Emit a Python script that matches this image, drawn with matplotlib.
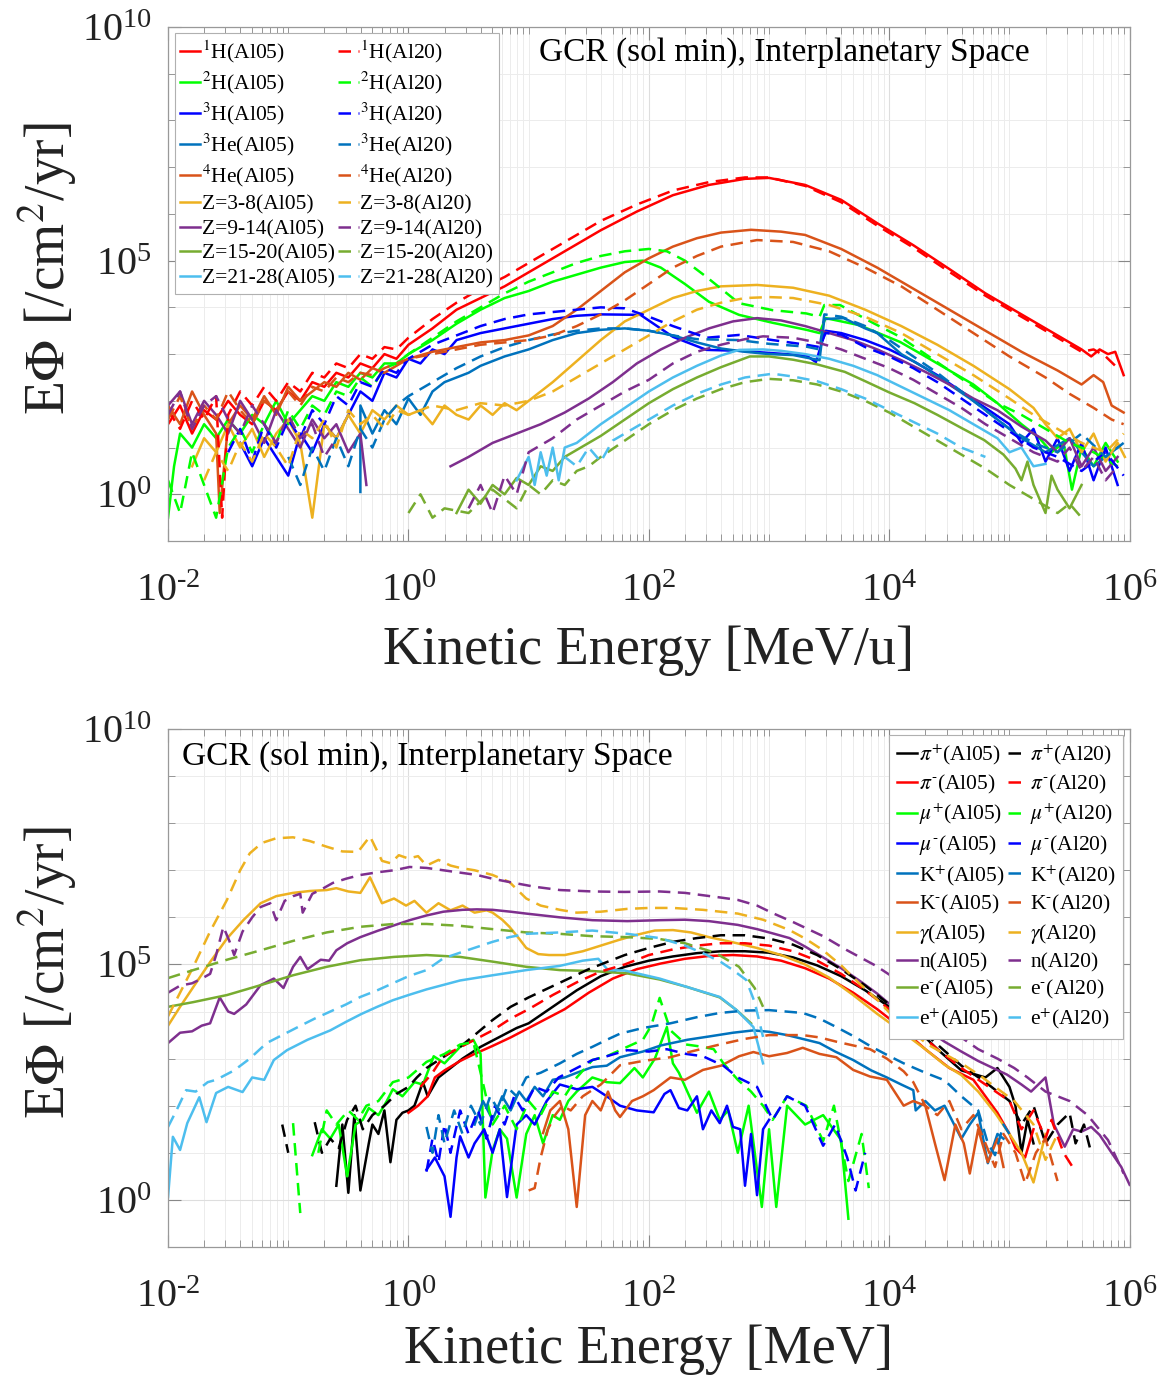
import numpy as np
import matplotlib
matplotlib.use("Agg")
from matplotlib import pyplot as plt
from matplotlib.ticker import FixedLocator, LogLocator, FuncFormatter, NullFormatter

plt.rcParams["font.family"] = ["Liberation Serif", "DejaVu Serif"]
plt.rcParams["mathtext.fontset"] = "stix"

nan = np.nan
HY = "\u2010"  # short hyphen, as in the reference superscripts

# every curve is a list of (log10 E, log10 E*Phi) pairs, nan breaks the line
# ---- top panel: GCR ions ----
H1_AL05 = [(-2.0, 1.5), (-1.9, 1.9), (-1.8, 1.3), (-1.7, 1.8), (-1.6, 1.6), (-1.5, 2.0), (-1.4, 1.7),
           (-1.3, 1.5), (-1.2, 2.0), (-1.1, 1.8), (-1.0, 2.2), (-0.9, 2.0), (-0.8, 2.4), (-0.7, 2.3),
           (-0.6, 2.6), (-0.5, 2.5), (-0.4, 2.8), (-0.3, 2.7), (-0.2, 3.0), (-0.1, 2.9), (0.0, 3.2),
           (0.2, 3.55), (0.4, 3.95), (0.6, 4.2), (0.8, 4.45), (1.0, 4.75), (1.3, 5.2), (1.6, 5.65),
           (1.9, 6.05), (2.2, 6.4), (2.5, 6.62), (2.8, 6.75), (3.0, 6.77), (3.3, 6.62), (3.6, 6.3),
           (3.9, 5.8), (4.2, 5.33), (4.5, 4.82), (4.8, 4.3), (5.1, 3.85), (5.4, 3.4), (5.6, 3.1),
           (5.68, 2.95), (5.75, 3.1), (5.82, 3.0), (5.88, 3.05), (5.95, 2.55)]
H1_AL20 = [(-2.0, 1.8), (-1.9, 1.4), (-1.8, 2.0), (-1.7, 1.6), (-1.6, 2.1), (-1.55, -0.5), (-1.5, 1.7),
           (-1.4, 2.2), (-1.3, 1.9), (-1.2, 2.3), (-1.1, 2.0), (-1.0, 2.4), (-0.9, 2.2), (-0.8, 2.6),
           (-0.7, 2.5), (-0.6, 2.8), (-0.5, 2.7), (-0.4, 3.0), (-0.3, 2.9), (-0.2, 3.15), (-0.1, 3.1),
           (0.0, 3.35), (0.2, 3.75), (0.4, 4.1), (0.6, 4.4), (0.8, 4.65), (1.0, 4.95), (1.3, 5.4),
           (1.6, 5.85), (1.9, 6.2), (2.2, 6.5), (2.5, 6.68), (2.8, 6.78), (3.0, 6.78), (3.3, 6.6),
           (3.6, 6.25), (3.9, 5.75), (4.2, 5.28), (4.5, 4.76), (4.8, 4.25), (5.1, 3.8), (5.4, 3.35),
           (5.6, 3.05), (5.7, 3.1), (5.8, 2.95), (5.9, 2.7)]
H2_AL05 = [(-2.0, -0.5), (-1.95, 0.6), (-1.9, 1.3), (-1.8, 1.0), (-1.7, 1.5), (-1.6, 1.2), (-1.5, 1.6),
           (-1.4, 1.3), (-1.3, 1.7), (-1.2, 1.5), (-1.1, 2.0), (-1.0, 1.5), (-0.9, 1.8), (-0.8, 2.1),
           (-0.7, 2.0), (-0.6, 2.4), (-0.5, 2.3), (-0.4, 2.6), (-0.3, 2.5), (-0.2, 2.8), (-0.1, 2.8),
           (0.0, 3.0), (0.2, 3.3), (0.4, 3.65), (0.6, 3.95), (0.8, 4.2), (1.0, 4.35), (1.2, 4.55),
           (1.4, 4.7), (1.6, 4.85), (1.8, 4.97), (1.95, 5.0), (2.1, 4.85), (2.3, 4.5), (2.5, 4.12),
           (2.75, 3.84), (3.03, 3.67), (3.31, 3.52), (3.42, 3.45), (3.47, 3.77), (3.75, 3.62),
           (4.09, 3.26), (4.3, 2.95), (4.5, 2.65), (4.7, 2.35), (4.9, 1.95), (5.1, 1.5), (5.25, 1.2),
           (5.35, 0.9), (5.45, 1.1), (5.52, 0.1), (5.6, 1.0), (5.7, 0.6), (5.8, 1.1), (5.9, 0.7)]
H2_AL20 = [(-2.0, 0.3), (-1.9, -0.4), (-1.8, 0.9), (-1.7, 0.2), (-1.6, -0.5), (-1.5, 1.0), (-1.4, 1.4),
           (-1.3, 0.9), (-1.2, 1.5), (-1.1, 1.1), (-1.0, 1.8), (-0.9, 1.4), (-0.8, 1.9), (-0.7, 1.7),
           (-0.6, 2.2), (-0.5, 2.1), (-0.4, 2.5), (-0.3, 2.3), (-0.2, 2.7), (-0.1, 2.8), (0.0, 3.0),
           (0.2, 3.35), (0.4, 3.7), (0.6, 4.0), (0.8, 4.3), (1.0, 4.55), (1.2, 4.75), (1.4, 4.95),
           (1.6, 5.1), (1.8, 5.2), (2.0, 5.25), (2.15, 5.2), (2.3, 5.0), (2.48, 4.65), (2.75, 4.09),
           (3.03, 3.94), (3.31, 3.87), (3.42, 3.8), (3.46, 4.05), (3.59, 4.05), (3.87, 3.66),
           (4.09, 3.37), (4.3, 3.0), (4.5, 2.65), (4.7, 2.3), (4.9, 1.95), (5.1, 1.7), (5.3, 1.4),
           (5.5, 1.1), (5.7, 0.9), (5.9, 0.6)]
H3_AL05 = [(-1.4, 1.1), (-1.3, 0.6), (-1.2, 1.2), (-1.1, 0.8), (-1.0, 0.4), (-0.9, 1.3), (-0.8, 0.9),
           (-0.7, 1.5), (-0.6, 1.2), (-0.5, 1.7), (-0.4, 2.2), (-0.3, 2.0), (-0.2, 2.6), (-0.1, 2.5),
           (0.0, 2.9), (0.1, 2.8), (0.2, 3.1), (0.3, 3.0), (0.4, 3.3), (0.6, 3.45), (0.8, 3.55),
           (1.0, 3.65), (1.2, 3.75), (1.4, 3.82), (1.6, 3.85), (1.93, 3.84), (2.2, 3.37), (2.48, 3.09),
           (2.76, 3.07), (3.03, 3.02), (3.31, 2.97), (3.39, 2.83), (3.47, 3.5), (3.6, 3.45),
           (3.8, 3.3), (4.0, 3.1), (4.2, 2.85), (4.4, 2.55), (4.6, 2.2), (4.8, 1.85), (5.0, 1.5),
           (5.1, 1.1), (5.2, 1.4), (5.3, 0.7), (5.4, 1.2), (5.5, 0.5), (5.6, 1.1), (5.7, 0.3),
           (5.8, 1.0), (5.9, 0.2)]
H3_AL20 = [(-1.5, 0.9), (-1.4, 1.4), (-1.3, 0.7), (-1.2, 1.5), (-1.1, 1.0), (-1.0, 1.6), (-0.9, 1.2),
           (-0.8, 1.8), (-0.7, 1.5), (-0.6, 2.1), (-0.5, 1.9), (-0.4, 2.4), (-0.3, 2.3), (-0.2, 2.7),
           (-0.1, 2.6), (0.0, 2.9), (0.2, 3.2), (0.4, 3.4), (0.6, 3.6), (0.8, 3.75), (1.0, 3.85),
           (1.2, 3.9), (1.4, 3.95), (1.6, 4.0), (1.8, 3.98), (2.0, 3.8), (2.2, 3.6), (2.48, 3.35),
           (2.75, 3.41), (3.03, 3.3), (3.31, 3.2), (3.42, 3.15), (3.47, 3.45), (3.6, 3.42),
           (3.8, 3.15), (4.0, 2.95), (4.2, 2.7), (4.4, 2.4), (4.6, 2.05), (4.8, 1.7), (5.0, 1.35),
           (5.2, 1.0), (5.4, 0.8), (5.6, 0.5), (5.8, 0.9), (5.95, 0.4)]
HE3_AL05 = [(-0.4, 0.05), (-0.4, 1.9), (-0.3, 1.3), (-0.2, 1.8), (-0.1, 1.5), (0.0, 2.05), (0.1, 1.7),
            (0.2, 2.2), (0.3, 2.4), (0.4, 2.5), (0.5, 2.6), (0.6, 2.75), (0.8, 2.95), (1.0, 3.1),
            (1.2, 3.3), (1.4, 3.45), (1.6, 3.52), (1.8, 3.55), (2.0, 3.5), (2.2, 3.4), (2.4, 3.25),
            (2.6, 3.12), (2.8, 3.05), (3.0, 3.0), (3.2, 2.98), (3.42, 2.87), (3.46, 3.75),
            (3.62, 3.77), (3.8, 3.55), (3.9, 3.45), (4.1, 3.0), (4.3, 2.7), (4.5, 2.35), (4.7, 2.0),
            (4.9, 1.6), (5.1, 1.2), (5.3, 0.9), (5.5, 1.2), (5.7, 0.6), (5.9, 1.0)]
HE3_AL20 = [(-1.0, 0.8), (-0.9, 0.2), (-0.8, 1.0), (-0.7, 0.5), (-0.6, 1.2), (-0.5, 0.6), (-0.4, 1.4),
            (-0.3, 1.0), (-0.2, 1.6), (-0.1, 1.9), (0.0, 2.1), (0.2, 2.4), (0.4, 2.7), (0.6, 2.95),
            (0.8, 3.15), (1.0, 3.3), (1.2, 3.42), (1.4, 3.5), (1.6, 3.55), (1.8, 3.55), (2.0, 3.5),
            (2.2, 3.4), (2.4, 3.32), (2.75, 3.3), (3.0, 3.22), (3.31, 3.16), (3.42, 3.1),
            (3.46, 3.85), (3.6, 3.8), (3.8, 3.6), (4.0, 3.3), (4.2, 2.95), (4.4, 2.6), (4.6, 2.2),
            (4.8, 1.8), (5.0, 1.4), (5.2, 1.1), (5.4, 0.9), (5.6, 1.3), (5.8, 0.8), (5.95, 1.1)]
HE4_AL05 = [(-2.0, 1.9), (-1.9, 1.5), (-1.8, 2.2), (-1.7, 1.7), (-1.6, 1.3), (-1.57, -0.4), (-1.5, 1.5),
            (-1.4, 1.9), (-1.3, 1.6), (-1.2, 2.1), (-1.1, 1.7), (-1.0, 2.3), (-0.9, 2.0), (-0.8, 2.2),
            (-0.7, 2.4), (-0.6, 2.3), (-0.5, 2.6), (-0.4, 2.45), (-0.3, 2.7), (-0.2, 2.6), (0.0, 2.9),
            (0.2, 3.05), (0.4, 3.15), (0.6, 3.25), (0.8, 3.3), (1.0, 3.4), (1.2, 3.6), (1.4, 3.95),
            (1.6, 4.35), (1.8, 4.75), (2.0, 5.05), (2.2, 5.3), (2.4, 5.48), (2.6, 5.6), (2.85, 5.66),
            (3.1, 5.62), (3.3, 5.55), (3.6, 5.25), (3.9, 4.85), (4.2, 4.4), (4.5, 3.95), (4.8, 3.5),
            (5.1, 3.05), (5.4, 2.65), (5.6, 2.35), (5.7, 2.55), (5.78, 2.4), (5.85, 1.9), (5.95, 1.75)]
HE4_AL20 = [(-2.0, 1.6), (-1.9, 2.1), (-1.8, 1.4), (-1.7, 1.9), (-1.6, 1.6), (-1.5, 2.2), (-1.4, 1.8),
            (-1.3, 1.5), (-1.2, 2.0), (-1.1, 1.8), (-1.0, 2.2), (-0.9, 1.9), (-0.8, 2.3), (-0.7, 2.2),
            (-0.6, 2.5), (-0.5, 2.4), (-0.4, 2.6), (-0.3, 2.55), (-0.2, 2.7), (0.0, 2.9), (0.2, 3.0),
            (0.4, 3.1), (0.6, 3.2), (0.8, 3.25), (1.0, 3.3), (1.2, 3.4), (1.4, 3.6), (1.6, 3.85),
            (1.8, 4.15), (2.0, 4.5), (2.2, 4.85), (2.4, 5.1), (2.6, 5.3), (2.9, 5.44), (3.2, 5.4),
            (3.5, 5.2), (3.8, 4.85), (4.1, 4.45), (4.4, 3.95), (4.7, 3.45), (5.0, 2.95), (5.3, 2.5),
            (5.5, 2.15), (5.7, 1.85), (5.85, 1.6), (5.95, 1.5)]
Z3_8_AL05 = [(-1.8, 0.6), (-1.7, 1.2), (-1.6, 0.9), (-1.5, 1.5), (-1.4, 1.0), (-1.3, 1.4), (-1.2, 0.8),
             (-1.1, 1.3), (-1.0, 1.6), (-0.9, 1.1), (-0.8, -0.5), (-0.7, 1.5), (-0.6, 1.2), (-0.5, 1.7),
             (-0.4, 1.3), (-0.3, 1.8), (-0.2, 1.6), (-0.1, 1.9), (0.0, 1.7), (0.1, 1.8), (0.2, 1.5),
             (0.3, 1.9), (0.4, 1.7), (0.5, 1.6), (0.6, 1.9), (0.7, 1.7), (0.8, 1.95), (0.9, 1.8),
             (1.0, 2.0), (1.2, 2.4), (1.4, 2.85), (1.6, 3.3), (1.8, 3.7), (2.0, 3.95), (2.2, 4.2),
             (2.4, 4.35), (2.6, 4.45), (2.9, 4.48), (3.2, 4.42), (3.5, 4.25), (3.8, 3.95), (4.1, 3.6),
             (4.4, 3.2), (4.7, 2.75), (5.0, 2.25), (5.2, 1.85), (5.3, 1.5), (5.4, 1.2), (5.5, 1.4),
             (5.6, 0.9), (5.7, 1.3), (5.8, 0.7), (5.9, 1.1), (5.96, 0.8)]
Z3_8_AL20 = [(-1.7, 0.3), (-1.6, 0.9), (-1.5, 0.5), (-1.4, 1.1), (-1.3, 0.7), (-1.2, 1.3), (-1.1, 1.0),
             (-1.0, 0.6), (-0.9, 1.4), (-0.8, 1.2), (-0.7, 1.6), (-0.6, 1.0), (-0.5, 1.8), (-0.4, 1.5),
             (-0.3, 1.7), (-0.2, 1.4), (-0.1, 1.8), (0.0, 1.7), (0.2, 1.9), (0.4, 1.8), (0.6, 1.95),
             (0.8, 1.9), (1.0, 2.0), (1.2, 2.2), (1.4, 2.5), (1.6, 2.8), (1.8, 3.1), (2.0, 3.4),
             (2.2, 3.7), (2.4, 3.95), (2.6, 4.1), (2.8, 4.2), (3.0, 4.22), (3.2, 4.2), (3.5, 4.05),
             (3.8, 3.8), (4.1, 3.45), (4.4, 3.0), (4.7, 2.55), (5.0, 2.05), (5.2, 1.7), (5.4, 1.4),
             (5.6, 1.1), (5.8, 0.9), (5.95, 1.3)]
Z9_14_AL05 = [(-2.0, 1.9), (-1.9, 2.2), (-1.8, 1.5), (-1.7, 2.0), (-1.6, 1.7), (-1.5, 1.3), (-1.4, 2.0),
              (-1.3, 1.6), (-1.2, 1.1), (-1.1, 1.8), (-1.0, 1.4), (-0.9, 1.0), (-0.8, 1.6), (-0.7, 1.2),
              (-0.6, 1.5), (-0.5, 0.9), (-0.4, 1.3), (-0.35, 0.2), (0.0, nan), (0.35, 0.6), (0.5, 0.8),
              (0.7, 1.1), (0.9, 1.3), (1.1, 1.5), (1.3, 1.75), (1.5, 2.05), (1.7, 2.4), (1.9, 2.8),
              (2.1, 3.1), (2.3, 3.35), (2.5, 3.55), (2.7, 3.7), (2.9, 3.77), (3.1, 3.72), (3.3, 3.6),
              (3.5, 3.45), (3.7, 3.3), (3.9, 3.1), (4.1, 2.87), (4.3, 2.62), (4.5, 2.35), (4.7, 2.05),
              (4.9, 1.8), (5.1, 1.45), (5.3, 1.15), (5.4, 0.9), (5.5, 1.2), (5.6, 0.6), (5.7, 1.0),
              (5.8, 0.5), (5.9, 0.8)]
Z9_14_AL20 = [(-2.0, 1.7), (-1.9, 2.2), (-1.8, 1.4), (-1.7, 1.9), (-1.6, 2.1), (-1.5, 1.6), (-1.4, 1.3),
              (-1.3, 1.9), (-1.2, 1.5), (-1.1, 1.1), (-1.0, 1.7), (-0.9, 1.2), (-0.8, 1.5), (-0.7, 0.8),
              (-0.6, 1.2), (0.0, nan), (0.5, -0.3), (0.6, 0.2), (0.7, -0.4), (0.8, 0.4), (0.9, 0.0),
              (1.0, 0.9), (1.2, 1.2), (1.4, 1.6), (1.6, 1.9), (1.8, 2.2), (2.0, 2.45), (2.2, 2.8),
              (2.4, 3.05), (2.6, 3.2), (2.8, 3.32), (2.95, 3.38), (3.2, 3.35), (3.4, 3.25), (3.6, 3.1),
              (3.8, 2.9), (4.0, 2.7), (4.2, 2.45), (4.4, 2.15), (4.6, 1.85), (4.8, 1.5), (5.0, 1.2),
              (5.2, 0.9), (5.4, 0.7), (5.5, 1.0), (5.6, 0.5), (5.7, 0.8), (5.8, 0.3), (5.9, 0.6)]
Z15_20_AL05 = [(0.4, -0.4), (0.5, 0.1), (0.6, -0.2), (0.7, 0.2), (0.8, 0.0), (0.9, 0.35), (1.0, 0.2),
               (1.1, 0.6), (1.2, 0.5), (1.3, 0.8), (1.4, 0.95), (1.6, 1.25), (1.8, 1.6), (2.0, 1.95),
               (2.2, 2.25), (2.4, 2.5), (2.6, 2.72), (2.84, 2.95), (3.0, 2.95), (3.2, 2.88), (3.4, 2.78),
               (3.63, 2.62), (3.8, 2.42), (4.0, 2.18), (4.21, 1.95), (4.4, 1.7), (4.6, 1.42), (4.79, 1.16),
               (4.95, 0.85), (5.05, 0.55), (5.1, 0.3), (5.15, 0.7), (5.2, 0.2), (5.3, -0.4), (5.35, 0.4),
               (5.4, 0.1), (5.5, -0.3), (5.6, 0.2)]
Z15_20_AL20 = [(0.0, -0.4), (0.1, 0.0), (0.2, -0.5), (0.3, -0.3), (0.5, -0.4), (0.7, 0.1), (0.9, -0.3),
               (1.0, 0.2), (1.1, 0.0), (1.2, 0.3), (1.3, 0.2), (1.4, 0.5), (1.5, 0.6), (1.6, 0.8),
               (1.8, 1.15), (2.0, 1.5), (2.2, 1.8), (2.4, 2.05), (2.6, 2.25), (2.8, 2.4), (3.0, 2.47),
               (3.2, 2.44), (3.4, 2.35), (3.6, 2.2), (3.8, 2.0), (4.0, 1.75), (4.2, 1.45), (4.4, 1.15),
               (4.6, 0.85), (4.8, 0.55), (5.0, 0.2), (5.2, -0.1), (5.4, -0.4), (5.5, -0.2), (5.6, -0.5)]
Z21_28_AL05 = [(0.9, 0.3), (1.0, 0.8), (1.05, 0.2), (1.1, 0.9), (1.15, 0.4), (1.2, 1.0), (1.25, 0.3),
               (1.3, 1.0), (1.4, 1.1), (1.5, 1.3), (1.6, 1.5), (1.8, 1.85), (2.0, 2.2), (2.2, 2.5),
               (2.4, 2.75), (2.6, 2.97), (2.75, 3.09), (2.95, 3.1), (3.1, 3.07), (3.3, 3.0), (3.5, 2.9),
               (3.7, 2.75), (3.9, 2.55), (4.1, 2.3), (4.3, 2.05), (4.5, 1.8), (4.7, 1.5), (4.9, 1.2),
               (5.0, 0.9), (5.1, 1.0), (5.2, 0.6), (5.3, 0.65)]
Z21_28_AL20 = [(1.3, 0.8), (1.4, 0.6), (1.5, 1.0), (1.6, 0.7), (1.7, 1.15), (1.8, 1.3), (2.0, 1.6),
               (2.2, 1.9), (2.4, 2.15), (2.6, 2.35), (2.8, 2.5), (3.03, 2.58), (3.2, 2.52), (3.4, 2.42),
               (3.6, 2.25), (3.8, 2.05), (4.0, 1.8), (4.2, 1.55), (4.4, 1.3), (4.6, 1.0), (4.8, 0.8)]

# ---- bottom panel: secondary particles ----
PIP_AL05 = [(-0.6, 0.3), (-0.55, 1.6), (-0.5, 0.15), (-0.45, 1.8), (-0.4, 0.2), (-0.33, 1.2), (-0.3, 1.6),
            (-0.25, 1.4), (-0.2, 1.9), (-0.15, 0.8), (-0.1, 1.7), (-0.05, 1.85), (0.0, 1.9), (0.05, 2.0),
            (0.12, 2.5), (0.16, 2.2), (0.25, 2.6), (0.35, 2.8), (0.45, 3.0), (0.6, 3.25), (0.75, 3.45),
            (0.9, 3.65), (1.0, 3.75), (1.2, 4.1), (1.4, 4.45), (1.6, 4.75), (1.8, 4.95), (2.0, 5.08),
            (2.2, 5.17), (2.4, 5.24), (2.6, 5.28), (2.8, 5.28), (3.0, 5.25), (3.2, 5.15), (3.4, 4.98),
            (3.6, 4.75), (3.8, 4.45), (4.0, 4.1), (4.2, 3.7), (4.4, 3.2), (4.6, 2.75), (4.8, 2.6),
            (4.9, 2.8), (5.0, 2.4), (5.05, 2.0), (5.1, 1.0), (5.15, 1.7), (5.2, 1.2)]
PIP_AL20 = [(-1.05, 1.6), (-1.0, 1.0), (-0.9, nan), (-0.78, 1.65), (-0.72, 1.0), (-0.65, 1.3), (-0.58, 1.1),
            (-0.51, 1.7), (-0.44, 2.0), (-0.38, 1.5), (-0.3, 1.8), (-0.2, 2.0), (-0.1, 2.25), (0.0, 2.4),
            (0.07, 2.6), (0.15, 2.8), (0.3, 3.05), (0.43, 3.25), (0.55, 3.5), (0.7, 3.82), (0.85, 4.1),
            (1.0, 4.3), (1.25, 4.6), (1.5, 4.9), (1.8, 5.2), (2.0, 5.35), (2.2, 5.48), (2.4, 5.56),
            (2.6, 5.62), (2.8, 5.62), (3.0, 5.55), (3.2, 5.42), (3.4, 5.2), (3.6, 4.9), (3.8, 4.55),
            (4.0, 4.15), (4.2, 3.75), (4.4, 3.3), (4.6, 2.85), (4.8, 2.5), (5.0, 2.1), (5.1, 1.6),
            (5.2, 2.0), (5.3, 1.2), (5.4, 1.6), (5.5, 1.85), (5.55, 1.2), (5.62, 1.6), (5.67, 1.1)]
PIM_AL05 = [(0.0, 1.85), (0.08, 2.0), (0.16, 2.2), (0.22, 2.6), (0.3, 2.75), (0.43, 2.95), (0.55, 3.1),
            (0.7, 3.27), (0.85, 3.45), (1.0, 3.65), (1.15, 3.85), (1.3, 4.05), (1.5, 4.4), (1.7, 4.7),
            (1.9, 4.9), (2.1, 5.02), (2.3, 5.12), (2.5, 5.18), (2.7, 5.2), (2.9, 5.17), (3.1, 5.08),
            (3.3, 4.92), (3.5, 4.7), (3.7, 4.4), (3.9, 4.05), (4.1, 3.65), (4.3, 3.2), (4.5, 2.8),
            (4.7, 2.55), (4.8, 2.2), (4.9, 1.85), (5.0, 1.4), (5.05, 1.1), (5.13, 0.9), (5.2, 1.5)]
PIM_AL20 = [(0.1, 2.4), (0.2, 2.7), (0.29, 3.05), (0.4, 3.2), (0.55, 3.4), (0.7, 3.6), (0.85, 3.85),
            (1.0, 4.05), (1.2, 4.35), (1.4, 4.62), (1.6, 4.85), (1.8, 5.0), (2.0, 5.2), (2.2, 5.32),
            (2.4, 5.4), (2.6, 5.45), (2.8, 5.45), (3.0, 5.4), (3.2, 5.28), (3.4, 5.08), (3.6, 4.8),
            (3.8, 4.45), (4.0, 4.05), (4.2, 3.65), (4.4, 3.2), (4.6, 2.8), (4.8, 2.45), (5.0, 2.1),
            (5.1, 1.5), (5.2, 1.9), (5.3, 1.3), (5.35, 1.7), (5.45, 1.0), (5.55, 0.6)]
MUP_AL05 = [(-0.8, 0.95), (-0.72, 1.5), (-0.65, 1.3), (-0.58, 1.6), (-0.51, 0.5), (-0.44, 1.6), (-0.38, 1.7),
            (-0.33, 1.95), (-0.25, 1.8), (-0.18, 2.1), (-0.13, 2.35), (-0.05, 2.2), (0.05, 2.5), (0.12, 2.45),
            (0.21, 3.05), (0.3, 2.9), (0.43, 3.25), (0.54, 3.4), (0.6, 3.1), (0.64, 0.05), (0.7, 1.05),
            (0.76, 1.5), (0.82, 1.3), (0.9, 0.05), (0.98, 1.4), (1.05, 1.8), (1.12, 1.2), (1.2, 1.8),
            (1.26, 1.7), (1.33, 2.1), (1.4, 2.3), (1.53, 2.6), (1.65, 2.5), (1.76, 2.48), (1.88, 2.8),
            (1.95, 2.6), (2.05, 3.0), (2.15, 3.67), (2.2, 2.9), (2.25, 2.7), (2.32, 2.3), (2.4, 1.85),
            (2.5, 2.3), (2.59, 1.7), (2.66, 1.9), (2.74, 1.0), (2.83, 2.0), (2.94, -0.15), (3.0, 1.5),
            (3.06, -0.15), (3.15, 2.0), (3.3, 1.6), (3.45, 1.8), (3.6, 1.27), (3.66, -0.4)]
MUP_AL20 = [(-0.96, 1.63), (-0.9, -0.28), (-0.8, nan), (-0.75, 1.0), (-0.68, 1.9), (-0.6, 1.6), (-0.5, 1.9),
            (-0.42, 1.7), (-0.35, 2.0), (-0.25, 2.1), (-0.13, 2.5), (0.0, 2.6), (0.15, 2.93), (0.3, 3.1),
            (0.43, 3.3), (0.54, 3.35), (0.6, 2.7), (0.7, 1.6), (0.8, 2.0), (0.9, 1.5), (1.0, 2.1),
            (1.1, 1.8), (1.2, 2.3), (1.3, 2.2), (1.4, 2.6), (1.53, 2.97), (1.65, 3.05), (1.82, 3.25),
            (1.95, 3.4), (2.02, 3.7), (2.09, 4.29), (2.18, 3.6), (2.31, 3.3), (2.45, 3.25), (2.54, 3.2),
            (2.62, 2.9), (2.74, 2.55), (2.85, 2.3), (2.95, 2.0), (3.03, 1.7), (3.15, 2.2), (3.31, 2.0),
            (3.45, 1.25), (3.54, 2.0), (3.66, 0.4), (3.77, 1.4), (3.83, 0.25)]
MUM_AL05 = [(0.15, 0.64), (0.22, 0.9), (0.3, 0.5), (0.35, -0.36), (0.4, 0.9), (0.43, 1.35), (0.5, 0.9),
            (0.55, 1.2), (0.63, 1.5), (0.7, 1.0), (0.76, 1.5), (0.82, 0.06), (0.9, 1.6), (0.98, 1.8),
            (1.05, 1.6), (1.15, 2.1), (1.26, 2.45), (1.4, 2.35), (1.53, 2.4), (1.65, 2.2), (1.76, 2.0),
            (1.9, 1.9), (2.04, 1.86), (2.13, 2.25), (2.18, 2.33), (2.25, 1.95), (2.32, 1.9), (2.4, 2.2),
            (2.45, 1.5), (2.52, 1.9), (2.59, 1.63), (2.65, 2.0), (2.7, 1.55), (2.76, 1.5), (2.8, 0.3),
            (2.85, 1.4), (2.9, 0.1), (2.95, 1.5), (3.0, 1.7)]
MUM_AL20 = [(0.15, 0.6), (0.2, 1.3), (0.25, 0.8), (0.3, 1.6), (0.35, 1.0), (0.43, 1.9), (0.5, 1.4),
            (0.58, 1.9), (0.65, 1.3), (0.72, 2.0), (0.8, 1.6), (0.88, 2.2), (0.95, 1.9), (1.05, 2.4),
            (1.15, 2.3), (1.25, 2.6), (1.4, 2.8), (1.53, 2.97), (1.65, 3.05), (1.82, 3.18), (2.0, 3.15),
            (2.15, 3.2), (2.31, 3.1), (2.45, 3.05), (2.62, 2.85), (2.74, 2.6), (2.9, 2.4), (3.03, 1.7),
            (3.15, 2.2), (3.3, 2.0), (3.45, 1.15), (3.55, 1.6), (3.65, 0.9), (3.72, 0.2), (3.8, 1.0)]
KP_AL05 = [(0.55, 1.6), (0.62, 2.1), (0.7, 1.7), (0.78, 2.2), (0.85, 1.9), (0.92, 2.3), (0.98, 2.1),
           (1.05, 2.4), (1.12, 2.2), (1.2, 2.55), (1.3, 2.6), (1.4, 2.7), (1.53, 2.82), (1.65, 2.85),
           (1.76, 3.03), (1.95, 3.15), (2.1, 3.28), (2.32, 3.4), (2.5, 3.47), (2.7, 3.55), (2.87, 3.6),
           (3.0, 3.57), (3.15, 3.5), (3.42, 3.33), (3.55, 3.15), (3.7, 2.97), (3.85, 2.75), (3.98, 2.6),
           (4.1, 2.45), (4.2, 2.33), (4.22, 1.9), (4.3, 2.1), (4.38, 1.9), (4.46, 2.0), (4.6, 1.3),
           (4.67, 1.6), (4.74, 1.85), (4.82, 0.78), (4.9, 1.4), (4.95, 1.3)]
KP_AL20 = [(0.15, 1.55), (0.2, 1.0), (0.25, 1.8), (0.3, 1.2), (0.38, 1.9), (0.45, 1.4), (0.52, 2.0),
           (0.6, 1.6), (0.68, 2.2), (0.75, 1.9), (0.82, 2.4), (0.9, 2.2), (0.98, 2.6), (1.1, 2.7),
           (1.26, 2.9), (1.4, 3.1), (1.53, 3.25), (1.65, 3.4), (1.76, 3.53), (1.95, 3.65), (2.18, 3.75),
           (2.4, 3.88), (2.59, 3.97), (2.8, 4.02), (3.0, 4.03), (3.28, 3.97), (3.42, 3.85), (3.56, 3.67),
           (3.7, 3.48), (3.84, 3.27), (3.98, 3.08), (4.12, 2.9), (4.3, 2.7), (4.46, 2.54), (4.6, 2.2),
           (4.74, 1.9), (4.82, 1.2), (4.88, 0.95), (4.95, 1.6), (5.0, 1.4)]
KM_AL05 = [(1.12, 1.42), (1.18, 1.9), (1.26, 2.1), (1.33, 1.5), (1.4, -0.15), (1.47, 1.8), (1.53, 2.1),
           (1.6, 1.9), (1.66, 2.3), (1.72, 1.9), (1.76, 1.76), (1.86, 2.1), (1.95, 2.2), (2.04, 2.33),
           (2.18, 2.6), (2.3, 2.55), (2.45, 2.76), (2.6, 2.85), (2.75, 3.05), (2.87, 3.14), (3.0, 3.05),
           (3.15, 3.12), (3.28, 3.23), (3.42, 3.1), (3.56, 3.03), (3.7, 2.76), (3.84, 2.62), (3.98, 2.55),
           (4.12, 2.0), (4.2, 2.1), (4.3, 2.0), (4.38, 1.2), (4.46, 0.42), (4.55, 1.6), (4.62, 1.2),
           (4.67, 0.56), (4.74, 1.5), (4.82, 0.8), (4.9, 1.3), (4.95, 0.7)]
KM_AL20 = [(1.0, 0.2), (1.05, 0.25), (1.1, 0.9), (1.16, 1.5), (1.22, 1.8), (1.28, 2.0), (1.35, 1.9),
           (1.45, 2.2), (1.6, 2.45), (1.76, 2.86), (1.95, 2.95), (2.18, 3.03), (2.35, 3.15), (2.59, 3.3),
           (2.8, 3.42), (3.0, 3.5), (3.28, 3.5), (3.42, 3.45), (3.56, 3.36), (3.7, 3.28), (3.84, 3.2),
           (3.98, 3.0), (4.12, 2.73), (4.2, 2.5), (4.3, 2.0), (4.4, 1.8), (4.5, 2.1), (4.6, 1.5),
           (4.7, 1.8), (4.8, 1.2), (4.88, 0.7), (4.95, 1.4), (5.05, 1.0), (5.13, 0.35), (5.22, 1.0),
           (5.3, 1.3), (5.4, 0.4)]
GAM_AL05 = [(-2.0, 3.7), (-1.9, 4.1), (-1.79, 4.52), (-1.65, 5.05), (-1.51, 5.55), (-1.37, 5.95), (-1.23, 6.3),
            (-1.1, 6.45), (-0.96, 6.52), (-0.82, 6.56), (-0.68, 6.58), (-0.6, 6.62), (-0.5, 6.55), (-0.4, 6.52),
            (-0.32, 6.85), (-0.22, 6.3), (-0.12, 6.4), (-0.02, 6.25), (0.05, 6.35), (0.15, 6.1), (0.25, 6.3),
            (0.35, 6.15), (0.45, 6.25), (0.55, 6.1), (0.65, 6.15), (0.7, 6.1), (0.78, 5.95), (0.84, 5.8),
            (0.92, 5.55), (0.98, 5.35), (1.08, 5.22), (1.17, 5.2), (1.3, 5.2), (1.45, 5.28), (1.6, 5.4),
            (1.75, 5.52), (1.9, 5.63), (2.05, 5.72), (2.2, 5.73), (2.35, 5.68), (2.5, 5.58), (2.7, 5.47),
            (2.9, 5.35), (3.1, 5.2), (3.3, 5.0), (3.5, 4.72), (3.7, 4.35), (3.9, 3.95), (4.1, 3.58),
            (4.3, 3.2), (4.46, 2.87), (4.6, 2.65), (4.74, 2.3), (4.88, 1.85), (5.0, 1.4), (5.1, 1.0),
            (5.2, 0.37), (5.3, 1.4)]
GAM_AL20 = [(-2.0, 3.9), (-1.9, 4.4), (-1.79, 4.95), (-1.65, 5.7), (-1.51, 6.37), (-1.4, 7.0), (-1.32, 7.36),
            (-1.22, 7.58), (-1.1, 7.68), (-0.96, 7.7), (-0.82, 7.62), (-0.68, 7.5), (-0.55, 7.4),
            (-0.42, 7.39), (-0.32, 7.72), (-0.22, 7.2), (-0.15, 7.15), (-0.08, 7.32), (0.0, 7.25),
            (0.08, 7.3), (0.15, 7.1), (0.25, 7.22), (0.35, 7.1), (0.43, 7.05), (0.55, 7.0), (0.7, 6.9),
            (0.84, 6.75), (0.98, 6.4), (1.1, 6.25), (1.26, 6.16), (1.4, 6.1), (1.6, 6.12), (1.82, 6.18),
            (2.0, 6.2), (2.2, 6.2), (2.45, 6.16), (2.74, 6.08), (2.95, 5.95), (3.17, 5.73), (3.3, 5.55),
            (3.45, 5.3), (3.6, 4.98), (3.75, 4.6), (3.9, 4.25), (4.03, 3.9), (4.2, 3.55), (4.32, 3.3),
            (4.46, 3.1), (4.6, 2.9), (4.75, 2.65), (4.88, 2.4), (5.04, 2.1), (5.2, 1.6), (5.3, 0.85),
            (5.4, 1.4)]
N_AL05 = [(-2.0, 3.33), (-1.9, 3.55), (-1.8, 3.58), (-1.72, 3.7), (-1.65, 3.75), (-1.57, 4.3), (-1.5, 4.0),
          (-1.45, 3.95), (-1.35, 4.15), (-1.23, 4.56), (-1.12, 4.7), (-1.04, 4.5), (-0.96, 4.95), (-0.9, 5.16),
          (-0.84, 4.9), (-0.73, 5.1), (-0.66, 5.08), (-0.6, 5.3), (-0.51, 5.45), (-0.4, 5.58), (-0.25, 5.72),
          (-0.12, 5.83), (0.01, 5.94), (0.15, 6.04), (0.29, 6.12), (0.45, 6.16), (0.57, 6.17), (0.7, 6.16),
          (0.85, 6.12), (0.98, 6.08), (1.26, 6.0), (1.53, 5.94), (1.82, 5.92), (2.09, 5.94), (2.3, 5.95),
          (2.5, 5.92), (2.74, 5.84), (2.9, 5.75), (3.03, 5.66), (3.17, 5.56), (3.3, 5.38), (3.45, 5.15),
          (3.6, 4.92), (3.75, 4.66), (3.9, 4.38), (4.03, 4.1), (4.2, 3.8), (4.35, 3.55), (4.46, 3.36),
          (4.6, 3.15), (4.74, 2.95), (4.88, 2.78), (4.98, 2.66), (5.1, 2.45), (5.18, 2.3), (5.3, 2.6),
          (5.37, 1.6), (5.46, 1.13), (5.53, 1.5), (5.6, 1.45), (5.68, 1.55), (5.75, 1.38), (5.85, 1.0),
          (5.93, 0.7), (6.0, 0.32)]
N_AL20 = [(-2.0, 4.4), (-1.9, 4.55), (-1.8, 4.6), (-1.72, 4.7), (-1.65, 4.8), (-1.6, 5.2), (-1.54, 5.8),
          (-1.49, 5.5), (-1.45, 5.2), (-1.38, 5.7), (-1.3, 6.0), (-1.23, 6.22), (-1.15, 6.3), (-1.1, 5.94),
          (-1.03, 6.35), (-0.96, 6.45), (-0.9, 6.5), (-0.88, 6.1), (-0.8, 6.5), (-0.72, 6.6), (-0.63, 6.73),
          (-0.52, 6.82), (-0.4, 6.9), (-0.25, 6.96), (-0.12, 7.0), (0.01, 7.07), (0.15, 7.05), (0.29, 7.0),
          (0.43, 6.95), (0.57, 6.9), (0.7, 6.82), (0.84, 6.75), (1.05, 6.65), (1.26, 6.58), (1.53, 6.55),
          (1.8, 6.54), (2.09, 6.55), (2.3, 6.52), (2.45, 6.47), (2.6, 6.42), (2.74, 6.37), (2.9, 6.25),
          (3.03, 6.09), (3.2, 5.9), (3.45, 5.6), (3.65, 5.3), (3.89, 4.97), (4.05, 4.7), (4.17, 4.48),
          (4.3, 4.15), (4.46, 3.77), (4.6, 3.45), (4.74, 3.2), (4.9, 3.0), (5.04, 2.8), (5.15, 2.6),
          (5.3, 2.3), (5.5, 2.1), (5.65, 1.8), (5.82, 1.27), (5.95, 0.56)]
EM_AL05 = [(-2.0, 4.1), (-1.79, 4.2), (-1.51, 4.35), (-1.23, 4.56), (-0.96, 4.77), (-0.68, 4.95), (-0.4, 5.09),
           (-0.12, 5.16), (0.15, 5.2), (0.43, 5.16), (0.7, 5.06), (0.98, 4.95), (1.26, 4.88), (1.53, 4.86),
           (1.82, 4.81), (2.09, 4.68), (2.32, 4.52), (2.59, 4.3), (2.73, 4.03), (2.85, 3.75)]
EM_AL20 = [(-2.0, 4.71), (-1.79, 4.88), (-1.51, 5.1), (-1.23, 5.3), (-0.96, 5.5), (-0.68, 5.68), (-0.4, 5.8),
           (-0.12, 5.86), (0.15, 5.86), (0.43, 5.82), (0.7, 5.75), (0.98, 5.68), (1.26, 5.65), (1.53, 5.6),
           (1.82, 5.58), (2.09, 5.54), (2.3, 5.45), (2.55, 5.25), (2.75, 4.95), (2.88, 4.5), (2.95, 4.1)]
EP_AL05 = [(-2.0, 0.06), (-1.96, 1.34), (-1.9, 1.06), (-1.84, 1.63), (-1.74, 2.18), (-1.68, 1.65), (-1.6, 2.27),
           (-1.5, 2.4), (-1.38, 2.29), (-1.3, 2.6), (-1.2, 2.55), (-1.12, 2.97), (-1.01, 3.18), (-0.84, 3.4),
           (-0.65, 3.6), (-0.52, 3.78), (-0.39, 3.95), (-0.26, 4.1), (-0.13, 4.24), (0.0, 4.35), (0.15, 4.47),
           (0.43, 4.66), (0.7, 4.77), (0.98, 4.88), (1.26, 4.97), (1.45, 5.08), (1.58, 5.12), (1.66, 4.88),
           (1.8, 4.87), (2.09, 4.7), (2.32, 4.52), (2.59, 4.31), (2.73, 4.03), (2.87, 3.67), (2.95, 2.9)]
EP_AL20 = [(-2.0, 1.55), (-1.93, 1.9), (-1.85, 2.33), (-1.77, 2.3), (-1.67, 2.5), (-1.6, 2.55), (-1.45, 2.75),
           (-1.32, 3.0), (-1.18, 3.33), (-1.05, 3.5), (-0.92, 3.67), (-0.78, 3.85), (-0.65, 4.0), (-0.52, 4.15),
           (-0.4, 4.31), (-0.26, 4.45), (-0.13, 4.6), (0.0, 4.75), (0.15, 4.88), (0.29, 5.13), (0.43, 5.25),
           (0.57, 5.37), (0.7, 5.48), (0.84, 5.58), (0.98, 5.65), (1.26, 5.68), (1.53, 5.72), (1.82, 5.65),
           (2.09, 5.56), (2.3, 5.4), (2.45, 5.24), (2.6, 5.05), (2.7, 4.88), (2.81, 4.67), (2.88, 4.2),
           (2.95, 3.46)]

TOP_NAMES = [r"$^{1}$H", r"$^{2}$H", r"$^{3}$H", r"$^{3}$He", r"$^{4}$He",
             "Z=3-8", "Z=9-14", "Z=15-20", "Z=21-28"]
TOP_COLORS = ["#FF0000", "#00FF00", "#0000FF", "#0072BD", "#D95319",
              "#EDB120", "#7E2F8E", "#77AC30", "#4DBEEE"]
TOP_AL05 = [H1_AL05, H2_AL05, H3_AL05, HE3_AL05, HE4_AL05, Z3_8_AL05, Z9_14_AL05, Z15_20_AL05, Z21_28_AL05]
TOP_AL20 = [H1_AL20, H2_AL20, H3_AL20, HE3_AL20, HE4_AL20, Z3_8_AL20, Z9_14_AL20, Z15_20_AL20, Z21_28_AL20]

BOT_NAMES = [r"$\pi^{+}$", r"$\pi^{" + HY + "}$", r"$\mu^{+}$", r"$\mu^{" + HY + "}$",
             r"K$^{+}$", r"K$^{" + HY + "}$", r"$\gamma$", "n", r"e$^{" + HY + "}$", r"e$^{+}$"]
BOT_COLORS = ["#000000", "#FF0000", "#00FF00", "#0000FF", "#0072BD", "#D95319",
              "#EDB120", "#7E2F8E", "#77AC30", "#4DBEEE"]
BOT_AL05 = [PIP_AL05, PIM_AL05, MUP_AL05, MUM_AL05, KP_AL05, KM_AL05, GAM_AL05, N_AL05, EM_AL05, EP_AL05]
BOT_AL20 = [PIP_AL20, PIM_AL20, MUP_AL20, MUM_AL20, KP_AL20, KM_AL20, GAM_AL20, N_AL20, EM_AL20, EP_AL20]

TITLE = "GCR (sol min), Interplanetary Space"
LW = 1.8
DASH = (0, (5, 3))


def decade_label(v, pos):
    exp = int(round(np.log10(v)))
    txt = str(exp).replace("-", HY)
    return r"$\mathdefault{10^{" + txt + "}}$"


def draw(ax, names, colors, solid, dashed):
    handles = []
    for curves, ls, tag in ((solid, "-", "Al05"), (dashed, DASH, "Al20")):
        for name, color, pts in zip(names, colors, curves):
            arr = np.array(pts, dtype=float)
            (line,) = ax.plot(10 ** arr[:, 0], 10 ** arr[:, 1], color=color, ls=ls, lw=LW,
                              label=f"{name}({tag})")
            handles.append(line)
    return handles


def style(ax, xlabel, xlabel_y):
    ax.set_xscale("log")
    ax.set_yscale("log")
    ax.set_xlim(1e-2, 1e6)
    ax.set_ylim(1e-1, 1e10)
    ax.xaxis.set_major_locator(FixedLocator([1e-2, 1e0, 1e2, 1e4, 1e6]))
    ax.xaxis.set_minor_locator(LogLocator(base=10, subs=np.arange(1, 10), numticks=40))
    ax.yaxis.set_major_locator(FixedLocator([1e0, 1e5, 1e10]))
    ax.yaxis.set_minor_locator(LogLocator(base=10, subs=(1.0,), numticks=40))
    ax.xaxis.set_major_formatter(FuncFormatter(decade_label))
    ax.yaxis.set_major_formatter(FuncFormatter(decade_label))
    ax.xaxis.set_minor_formatter(NullFormatter())
    ax.yaxis.set_minor_formatter(NullFormatter())
    ax.grid(True, which="major", color="#dedede", lw=0.8)
    ax.grid(True, which="minor", color="#ececec", lw=0.7)
    ax.set_axisbelow(True)
    ax.tick_params(which="both", direction="in", top=True, right=True, colors="#888888",
                   labelcolor="#222222", labelsize=29)
    ax.tick_params(which="major", length=9, width=0.8)
    ax.tick_params(which="minor", length=5, width=0.6)
    ax.tick_params(axis="x", pad=23)
    ax.tick_params(axis="y", pad=12)
    for sp in ax.spines.values():
        sp.set_color("#999999")
        sp.set_linewidth(0.9)
    ax.set_xlabel(xlabel, fontsize=39, color="#222222")
    ax.set_ylabel(r"E$\Phi$ [/cm$^{2}$/yr]", fontsize=40, color="#222222")
    ax.xaxis.set_label_coords(0.5, xlabel_y)
    ax.yaxis.set_label_coords(-0.093, 0.53)


fig = plt.figure(figsize=(11.67, 13.82), dpi=100)
ax1 = fig.add_axes([0.144, 0.6085, 0.824, 0.372])
ax2 = fig.add_axes([0.144, 0.0977, 0.824, 0.3748])

leg_kw = dict(ncol=2, fontsize=15.5, frameon=True, fancybox=False, framealpha=1, edgecolor="#b0b0b0",
              handlelength=0.95, handletextpad=0.08, columnspacing=0.15, borderaxespad=0.3)

h1 = draw(ax1, TOP_NAMES, TOP_COLORS, TOP_AL05, TOP_AL20)
style(ax1, "Kinetic Energy [MeV/u]", -0.165)
leg1 = ax1.legend(handles=h1, loc="upper left", labelspacing=0.22, borderpad=0.25, **leg_kw)
leg1.get_frame().set_linewidth(0.8)
ax1.text(0.641, 0.951, TITLE, transform=ax1.transAxes, ha="center", va="center", fontsize=24)

h2 = draw(ax2, BOT_NAMES, BOT_COLORS, BOT_AL05, BOT_AL20)
style(ax2, "Kinetic Energy [MeV]", -0.15)
leg2 = ax2.legend(handles=h2, loc="upper right", labelspacing=0.27, borderpad=0.35, **leg_kw)
leg2.get_frame().set_linewidth(0.8)
ax2.text(0.015, 0.946, TITLE, transform=ax2.transAxes, ha="left", va="center", fontsize=24)

fig.savefig("out.png", dpi=100)
